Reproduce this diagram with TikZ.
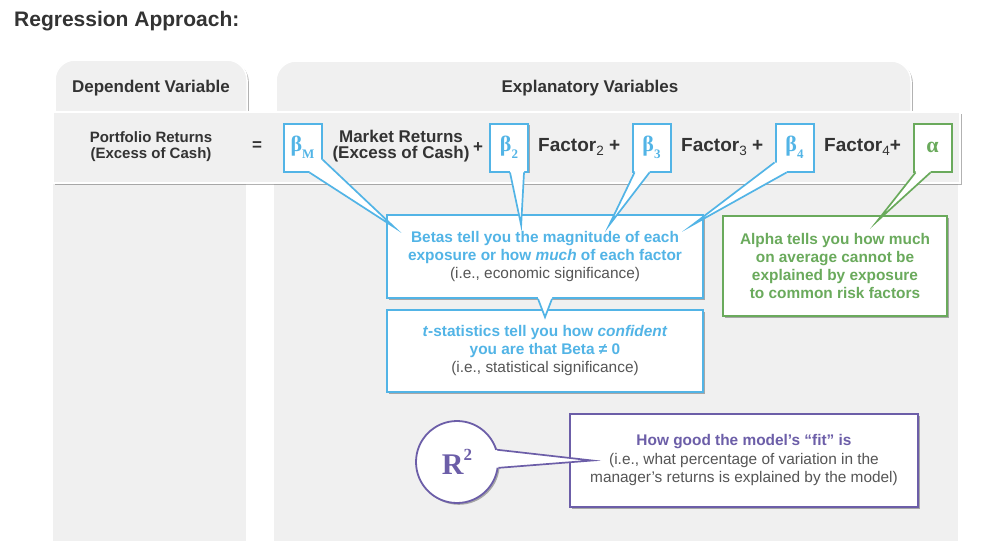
\documentclass[tikz,border=0pt]{standalone}
\usepackage{fontspec}
\setmainfont{Liberation Sans}
\newfontfamily\grk{Liberation Serif}
\usetikzlibrary{shadows,calc}
\definecolor{panel}{RGB}{240,240,240}
\definecolor{bblue}{RGB}{82,180,230}
\definecolor{bgreen}{RGB}{106,170,92}
\definecolor{bpurple}{RGB}{108,94,168}
\definecolor{dtext}{RGB}{51,51,51}
\definecolor{ltext}{RGB}{85,85,85}
\newcommand\fs[2]{\fontsize{#1}{#2}\selectfont}
\newcommand\lowsub[1]{\raisebox{-0.25em}{\fs{13.5}{13.5}\mdseries #1}}
\newcommand\grsub[1]{\raisebox{-0.3em}{\fs{13}{13}#1}}
\newcommand\pointer[6]{%
  \fill[white] #5 -- #2 -- #4 -- #3 -- #6 -- cycle;
  \draw[#1, line width=1.7pt, line join=miter, miter limit=30] #2 -- #4 -- #3;}
\begin{document}
\begin{tikzpicture}[x=1pt,y=-1pt,
  shad/.style={drop shadow={opacity=0.3, shadow xshift=1.8pt, shadow yshift=-1.8pt, fill=black}},
  tab/.style={fill=panel, draw=white, line width=1.5pt, shad, rounded corners=20pt},
  head/.style={text=dtext, font=\bfseries\fs{17}{20}, inner sep=0pt},
  eqtext/.style={text=dtext, font=\bfseries\fs{17}{16}, align=center, inner sep=0pt},
  bbox/.style={draw=#1, fill=white, line width=2pt, minimum width=38pt, minimum height=48pt,
    inner sep=0pt, shad, text=#1, font=\grk\bfseries\fs{22}{22}},
  callout/.style={draw=#1, text=#1, fill=white, line width=1.7pt, shad, align=center,
    inner sep=0pt, font=\bfseries\fs{15.4}{18}}
]
\useasboundingbox (0,0) rectangle (992,554);

% title
\node[anchor=base west, text=dtext, font=\bfseries\fs{21}{24}, inner sep=0pt] (title) at (14,27) {Regression Approach:};

% panels
\path[tab] (55,112) -- (55,60) -- (247,60) -- (247,112);
\path[tab] (276,112) -- (276,61) -- (911,61) -- (911,112);
\fill[panel] (53,183) rectangle (246,541);
\fill[panel] (274,183) rectangle (958,541);
\node[head] (dep) at (151,88) {Dependent Variable};
\node[head] (expl) at (590,88) {Explanatory Variables};

% equation band
\node[fill=panel, draw=white, line width=2pt, minimum width=907pt, minimum height=71pt, inner sep=0pt, shad] (band) at (506.5,147.5) {};

\node[eqtext, font=\bfseries\fs{15}{16}] (port) at (151,147) {Portfolio Returns\\(Excess of Cash)};
\node[eqtext] (eq) at (257,146) {=};
\node[bbox=bblue] (bM) at (302.5,147.5) {β\grsub{M}};
\node[eqtext] (mkt) at (401,146) {Market Returns\\(Excess of Cash)};
\node[eqtext] (plus1) at (478,148) {+};
\node[bbox=bblue] (b2) at (509,147.5) {β\grsub{2}};
\node[eqtext, font=\bfseries\fs{19}{20}, anchor=base west] (f2) at (538,151) {Factor\lowsub{2} +};
\node[bbox=bblue] (b3) at (651.5,147.5) {β\grsub{3}};
\node[eqtext, font=\bfseries\fs{19}{20}, anchor=base west] (f3) at (681,151) {Factor\lowsub{3} +};
\node[bbox=bblue] (b4) at (794.5,147.5) {β\grsub{4}};
\node[eqtext, font=\bfseries\fs{19}{20}, anchor=base west] (f4) at (824,151) {Factor\lowsub{4}+};
\node[bbox=bgreen] (al) at (932.5,147.5) {α};

% callout boxes
\node[callout=bblue, minimum width=316pt, minimum height=82pt] (tstat) at (545,351)
  {\textit{t}-statistics tell you how \textit{confident}\\you are that Beta ≠ 0\\{\mdseries\color{ltext}(i.e., statistical significance)}};
\node[callout=bblue, minimum width=316pt, minimum height=83pt] (betas) at (545,256.5)
  {Betas tell you the magnitude of each\\exposure or how \textit{much} of each factor\\{\mdseries\color{ltext}(i.e., economic significance)}};
\node[callout=bgreen, minimum width=224pt, minimum height=100pt] (alpha) at (835,266)
  {Alpha tells you how much\\on average cannot be\\explained by exposure\\to common risk factors};

% pointers
\pointer{bblue}{($(betas.south)+(-7,0)$)}{($(betas.south)+(7,0)$)}{($(tstat.north)+(0,8)$)}{($(betas.south)+(-7,-3)$)}{($(betas.south)+(7,-3)$)}
\pointer{bblue}{($(bM.south east)+(0,-13)$)}{($(bM.south east)+(-13,0)$)}{($(betas.north west)+(8,13)$)}{($(bM.south east)+(-3,-13)$)}{($(bM.south east)+(-13,-3)$)}
\pointer{bblue}{($(b2.south)+(1,0)$)}{($(b2.south)+(15,0)$)}{($(betas.north west)+(135,11)$)}{($(b2.south)+(1,-3)$)}{($(b2.south)+(15,-3)$)}
\pointer{bblue}{($(b3.south)+(-17,0)$)}{($(b3.south)+(-2,0)$)}{($(betas.north west)+(223,11)$)}{($(b3.south)+(-17,-3)$)}{($(b3.south)+(-2,-3)$)}
\pointer{bblue}{($(b4.south west)+(0,-10)$)}{($(b4.south west)+(12,0)$)}{($(betas.north west)+(306,11)$)}{($(b4.south west)+(3,-10)$)}{($(b4.south west)+(12,-3)$)}
\pointer{bgreen}{($(al.south)+(-17,0)$)}{($(al.south)+(-2,0)$)}{($(alpha.north west)+(155,6)$)}{($(al.south)+(-17,-3)$)}{($(al.south)+(-2,-3)$)}

% R squared
\node[draw=bpurple, fill=white, line width=1.7pt, shad, align=center, inner sep=0pt,
  minimum width=348pt, minimum height=93pt, font=\fs{15.4}{18.5}, text=ltext] (fit) at (744,460.5)
  {\textcolor{bpurple}{\bfseries How good the model’s “fit” is}\\(i.e., what percentage of variation in the\\manager’s returns is explained by the model)};
\node[circle, draw=bpurple, fill=white, line width=1.8pt, shad, minimum size=82pt, inner sep=0pt,
  text=bpurple, font=\grk\bfseries\fs{30}{30}] (r2) at (457,462) {R\raisebox{0.45em}{\fs{17}{17}2}};
\pointer{bpurple}{(r2.17)}{(r2.-8)}{($(fit.west)+(23,0)$)}{($(r2.17)!4pt!(r2.center)$)}{($(r2.-8)!4pt!(r2.center)$)}
\end{tikzpicture}
\end{document}
